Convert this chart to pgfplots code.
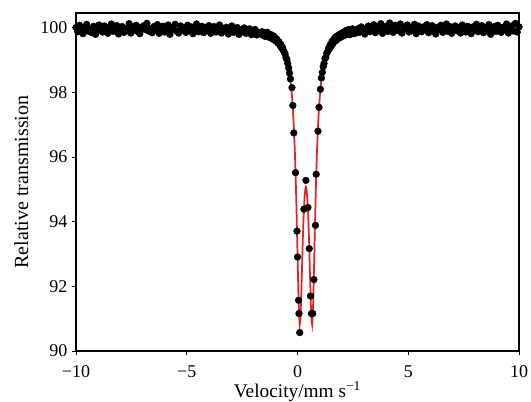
\documentclass[border=0pt]{standalone}
\usepackage{fontspec}
\setmainfont{Liberation Serif}
\usepackage{pgfplots}
\pgfplotsset{compat=1.18}
\definecolor{fitred}{RGB}{225,35,35}

\pgfplotstableread{
v T
-10.00 100.01
-9.92 99.88
-9.84 100.08
-9.76 99.94
-9.68 99.82
-9.60 100.03
-9.52 100.11
-9.44 99.90
-9.36 99.97
-9.28 99.85
-9.20 100.05
-9.12 99.80
-9.04 99.99
-8.96 100.09
-8.88 99.92
-8.80 99.87
-8.72 100.06
-8.64 99.96
-8.56 99.83
-8.48 100.02
-8.40 100.12
-8.32 99.89
-8.24 99.95
-8.16 100.07
-8.08 99.81
-8.00 100.00
-7.92 100.04
-7.84 99.86
-7.76 99.98
-7.68 99.91
-7.60 100.13
-7.52 99.84
-7.44 100.03
-7.36 99.93
-7.28 100.08
-7.20 99.88
-7.12 99.82
-7.04 100.01
-6.96 100.06
-6.88 99.95
-6.80 100.14
-6.72 99.90
-6.64 99.97
-6.56 99.85
-6.48 100.04
-6.40 99.92
-6.32 100.10
-6.24 99.83
-6.16 99.99
-6.08 100.05
-6.00 99.87
-5.92 99.94
-5.84 100.09
-5.76 99.80
-5.68 100.02
-5.60 99.96
-5.52 100.11
-5.44 99.89
-5.36 99.84
-5.28 100.06
-5.20 99.93
-5.12 100.00
-5.04 99.86
-4.96 100.08
-4.88 99.91
-4.80 100.03
-4.72 99.82
-4.64 99.98
-4.56 100.12
-4.48 99.88
-4.40 99.95
-4.32 100.05
-4.24 99.85
-4.16 100.01
-4.08 99.92
-4.00 100.07
-3.92 99.83
-3.84 99.97
-3.76 100.04
-3.68 99.87
-3.60 99.93
-3.52 100.09
-3.44 99.84
-3.36 99.99
-3.28 99.90
-3.20 100.02
-3.12 99.81
-3.04 99.95
-2.96 100.06
-2.88 99.86
-2.80 99.92
-2.72 100.01
-2.64 99.80
-2.56 99.94
-2.48 99.88
-2.40 100.00
-2.32 99.83
-2.24 99.91
-2.16 99.97
-2.08 99.79
-2.00 99.89
-1.92 99.95
-1.84 99.78
-1.76 99.86
-1.68 99.82
-1.60 99.88
-1.56 99.77
-1.52 99.86
-1.48 99.74
-1.44 99.83
-1.40 99.76
-1.36 99.86
-1.32 99.72
-1.28 99.80
-1.24 99.70
-1.20 99.79
-1.16 99.73
-1.12 99.65
-1.08 99.75
-1.04 99.62
-1.00 99.69
-0.96 99.58
-0.92 99.64
-0.88 99.53
-0.84 99.57
-0.80 99.47
-0.76 99.49
-0.72 99.38
-0.68 99.40
-0.64 99.31
-0.60 99.25
-0.56 99.20
-0.52 99.08
-0.48 99.02
-0.44 98.90
-0.40 98.76
-0.36 98.60
-0.32 98.42
-0.25 98.15
-0.21 97.60
-0.165 96.75
-0.09 95.52
-0.023 93.71
0.003 92.91
0.05 91.57
0.068 91.16
0.10 90.57
0.29 94.39
0.38 95.28
0.47 94.44
0.53 93.17
0.59 91.70
0.63 91.16
0.69 91.16
0.74 92.21
0.81 93.89
0.845 95.47
0.925 96.80
0.97 97.54
1.035 98.10
1.08 98.45
1.12 98.62
1.16 98.80
1.20 98.90
1.24 99.05
1.28 99.09
1.32 99.22
1.36 99.26
1.40 99.37
1.44 99.35
1.48 99.48
1.52 99.44
1.56 99.58
1.60 99.52
1.64 99.65
1.68 99.58
1.72 99.72
1.76 99.62
1.80 99.75
1.84 99.67
1.88 99.79
1.92 99.70
1.96 99.82
2.00 99.73
2.04 99.85
2.08 99.76
2.12 99.88
2.16 99.78
2.20 99.92
2.24 99.80
2.28 99.86
2.32 99.95
2.36 99.79
2.40 99.90
2.44 99.84
2.48 99.97
2.52 99.82
2.56 99.93
2.64 99.84
2.72 99.97
2.80 99.86
2.88 100.03
2.96 99.90
3.04 99.81
3.12 99.99
3.20 100.06
3.28 99.88
3.36 99.94
3.44 100.10
3.52 99.85
3.60 100.01
3.68 99.92
3.76 100.13
3.84 99.83
3.92 99.97
4.00 100.05
4.08 99.89
4.16 100.15
4.24 99.95
4.32 99.86
4.40 100.08
4.48 100.02
4.56 99.91
4.64 100.12
4.72 99.84
4.80 100.04
4.88 99.98
4.96 100.09
5.04 99.87
5.12 100.01
5.20 99.93
5.28 100.11
5.36 99.82
5.44 100.06
5.52 99.96
5.60 99.88
5.68 100.03
5.76 99.94
5.84 100.10
5.92 99.85
6.00 99.99
6.08 100.07
6.16 99.90
6.24 99.81
6.32 100.02
6.40 99.95
6.48 100.08
6.56 99.86
6.64 99.97
6.72 100.12
6.80 99.89
6.88 100.04
6.96 99.83
7.04 99.96
7.12 100.06
7.20 99.91
7.28 100.00
7.36 99.84
7.44 100.09
7.52 99.93
7.60 99.87
7.68 100.05
7.76 99.98
7.84 99.82
7.92 100.03
8.00 99.92
8.08 100.11
8.16 99.88
8.24 99.95
8.32 100.07
8.40 99.85
8.48 100.01
8.56 99.94
8.64 100.10
8.72 99.80
8.80 99.97
8.88 100.04
8.96 99.89
9.04 100.08
9.12 99.93
9.20 99.86
9.28 100.02
9.36 99.96
9.44 100.12
9.52 99.84
9.60 99.99
9.68 100.06
9.76 99.90
9.84 100.14
9.92 99.87
10.00 100.03
}\measured

\pgfplotstableread{
v T
-10.00 99.96
-7.00 99.955
-5.00 99.95
-4.00 99.94
-3.00 99.92
-2.50 99.90
-2.00 99.88
-1.50 99.84
-1.20 99.77
-1.00 99.68
-0.80 99.53
-0.60 99.28
-0.50 99.08
-0.40 98.78
-0.30 98.28
-0.25 97.90
-0.20 97.40
-0.16 96.87
-0.12 96.19
-0.08 95.32
-0.04 94.24
0.00 92.99
0.04 91.79
0.07 91.11
0.10 90.82
0.13 90.96
0.16 91.48
0.20 92.46
0.24 93.46
0.28 94.25
0.32 94.78
0.36 95.04
0.38 95.08
0.40 95.04
0.44 94.78
0.48 94.25
0.52 93.46
0.56 92.46
0.60 91.48
0.63 90.96
0.66 90.82
0.69 91.11
0.72 91.79
0.76 92.99
0.80 94.24
0.84 95.32
0.88 96.19
0.92 96.87
0.96 97.40
1.01 97.90
1.06 98.28
1.16 98.78
1.26 99.08
1.36 99.28
1.56 99.53
1.76 99.68
1.96 99.77
2.26 99.84
2.76 99.88
3.26 99.90
3.76 99.92
4.76 99.94
5.76 99.95
8.00 99.955
10.00 99.96
}\fitline

\begin{document}
\begin{tikzpicture}
\useasboundingbox (-57pt,-37.5pt) rectangle (341.25pt,263.25pt);
\begin{axis}[
    scale only axis,
    width=332.25pt,
    height=253.5pt,
    xmin=-10, xmax=10,
    ymin=90, ymax=100.46,
    xtick={-10,-5,0,5,10},
    xticklabels={−10,−5,0,5,10},
    ytick={90,92,94,96,98,100},
    tick align=outside,
    major tick length=3pt,
    xtick pos=bottom,
    ytick pos=left,
    axis line style={line width=0.8pt},
    tick style={line width=0.7pt, black},
    /pgf/number format/assume math mode=true,
    tick label style={font=\fontsize{13.5}{16}\selectfont},
    xticklabel style={yshift=-4.5pt},
    xlabel={Velocity/mm s\textsuperscript{−1}},
    ylabel={Relative transmission},
    every axis x label/.style={at={(axis description cs:0.5,0)}, anchor=base, yshift=-35pt, font=\fontsize{14.5}{17}\selectfont},
    every axis y label/.style={at={(axis description cs:-0.1234,0.5)}, anchor=center, rotate=90, font=\fontsize{15}{18}\selectfont},
]
\addplot[fitred, line width=1.3pt] table[x=v, y=T] {\fitline};
\addplot[only marks, mark=*, mark size=2.5pt, black] table[x=v, y=T] {\measured};
\end{axis}
\end{tikzpicture}
\end{document}
